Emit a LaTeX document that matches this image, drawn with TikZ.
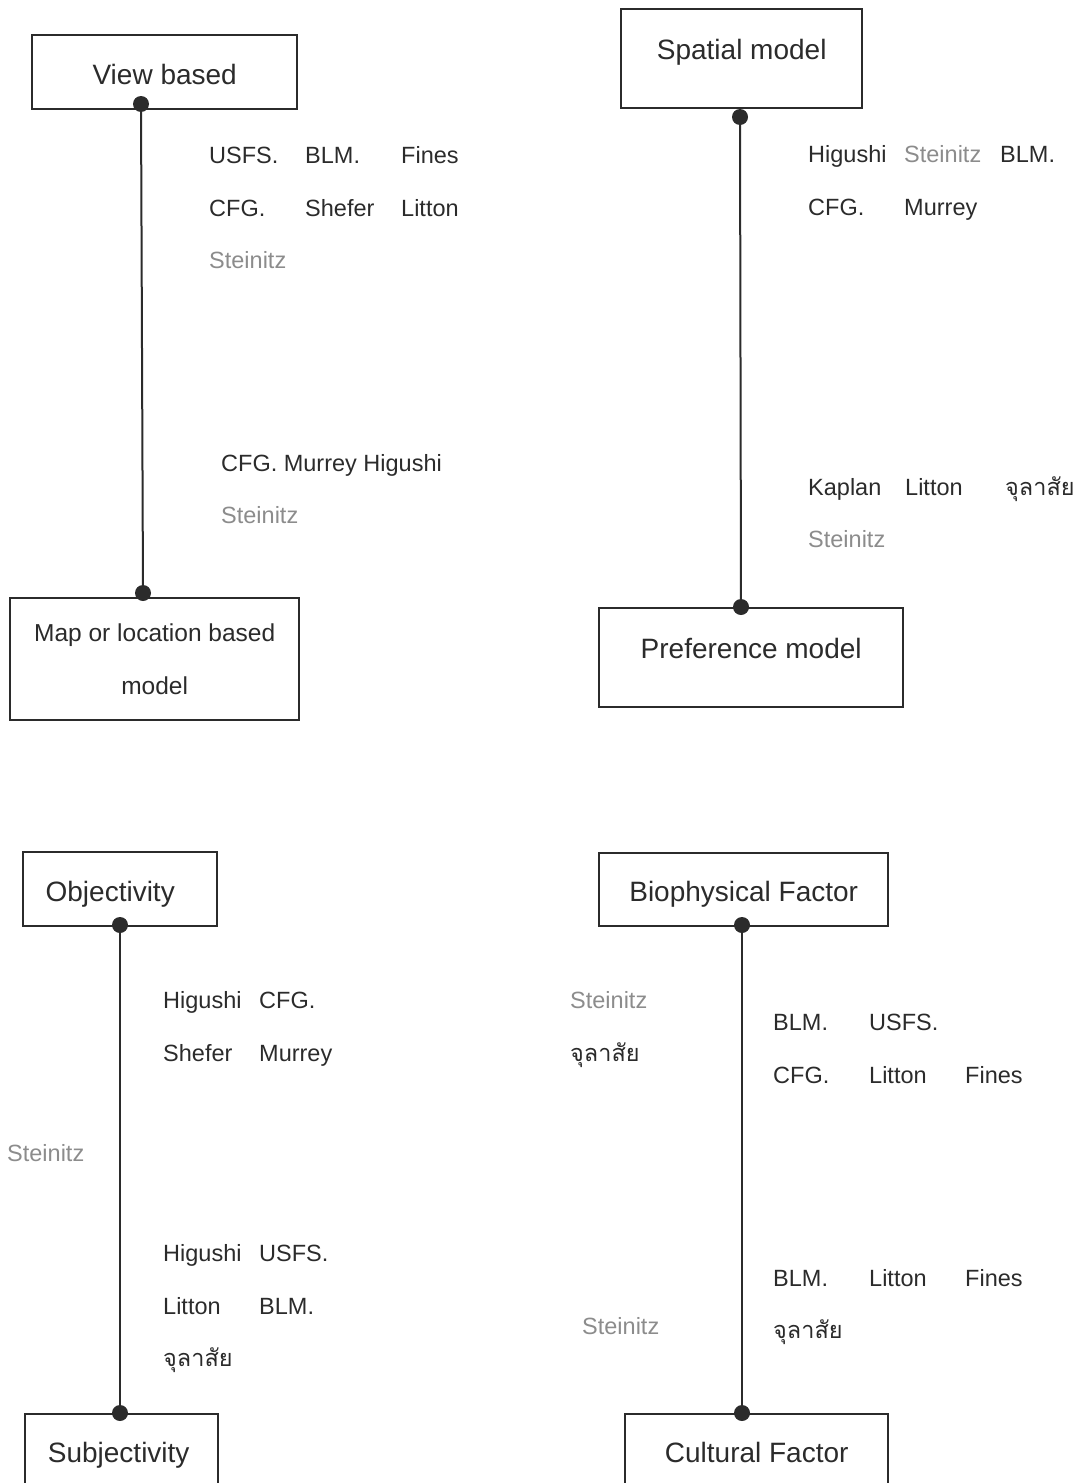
\documentclass[tikz,border=0pt]{standalone}
\usepackage{fontspec}
\setmainfont{Liberation Sans}
\newfontfamily\thaifont[Script=Thai]{Loma}
\usetikzlibrary{positioning}
\definecolor{ink}{HTML}{2B2B2B}
\definecolor{faint}{HTML}{8C8C8C}
\newcommand{\boxtext}[2]{\raisebox{#1}[0pt][0pt]{#2}}

\begin{document}
\begin{tikzpicture}[x=1pt, y=-1pt,
    box/.style={draw=ink, line width=2.4pt, anchor=north west, inner sep=0pt, text=ink, align=center, font=\fontsize{28}{53}\selectfont},
    dot/.style={circle, fill=ink, inner sep=0pt, minimum size=16pt},
    wire/.style={draw=ink, line width=2pt},
    lbl/.style={anchor=west, inner sep=0pt, text height=17pt, text depth=0pt, yshift=-0.5pt, text=ink, font=\fontsize{23.5}{28}\selectfont},
    dim/.style={lbl, text=faint},
    thai/.style={lbl, font=\thaifont\fontsize{23.5}{28}\selectfont}]

  \useasboundingbox (0,0) rectangle (1087,1483);
  \clip (0,0) rectangle (1087,1483);

  % View based <-> map based.
  \node[box, minimum width=265pt, minimum height=74pt] (view) at (31,34) {\boxtext{-12.5pt}{View based}};
  \node[box, minimum width=289pt, minimum height=122pt, font=\fontsize{24.5}{53}\selectfont] (map) at (9,597) {Map or location based\\model};
  \node[dot] (view-d) at (141,104) {};
  \node[dot] (map-d) at (143,593) {};
  \draw[wire] (view-d) -- (map-d);
  \foreach \x/\y/\t [count=\i] in {209/154/USFS., 305/154/BLM., 401/154/Fines,
      209/207/CFG., 305/207/Shefer, 401/207/Litton, 221/462/CFG. Murrey Higushi}
    \node[lbl] (vl\i) at (\x,\y) {\t};
  \node[dim] (vl8) at (209,259) {Steinitz};
  \node[dim] (vl9) at (221,514) {Steinitz};

  % Spatial <-> preference.
  \node[box, minimum width=241pt, minimum height=99pt] (spat) at (620,8) {\boxtext{-1pt}{Spatial model}};
  \node[box, minimum width=304pt, minimum height=99pt] (pref) at (598,607) {\boxtext{-1pt}{Preference model}};
  \node[dot] (spat-d) at (740,117) {};
  \node[dot] (pref-d) at (741,607) {};
  \draw[wire] (spat-d) -- (pref-d);
  \foreach \x/\y/\t [count=\i] in {808/153/Higushi, 1000/153/BLM., 808/206/CFG.,
      904/206/Murrey, 808/486/Kaplan, 905/486/Litton}
    \node[lbl] (sl\i) at (\x,\y) {\t};
  \node[dim] (sl7) at (904,153) {Steinitz};
  \node[dim] (sl8) at (808,538) {Steinitz};
  \node[thai] (sl9) at (1005,486) {จุลาสัย};

  % Objectivity <-> subjectivity.
  \node[box, minimum width=194pt, minimum height=74pt] (obj) at (22,851) {\boxtext{-12.5pt}{Objectivity\hspace{20pt}}};
  \node[box, minimum width=193pt, minimum height=80pt] (subj) at (24,1413) {\boxtext{-8.5pt}{Subjectivity\hspace{6pt}}};
  \node[dot] (obj-d) at (120,925) {};
  \node[dot] (subj-d) at (120,1413) {};
  \draw[wire] (obj-d) -- (subj-d);
  \foreach \x/\y/\t [count=\i] in {163/999/Higushi, 259/999/CFG., 163/1052/Shefer,
      259/1052/Murrey, 163/1252/Higushi, 259/1252/USFS., 163/1305/Litton, 259/1305/BLM.}
    \node[lbl] (ol\i) at (\x,\y) {\t};
  \node[dim] (ol9) at (7,1152) {Steinitz};
  \node[thai] (ol10) at (163,1357) {จุลาสัย};

  % Biophysical <-> cultural.
  \node[box, minimum width=289pt, minimum height=73pt] (bio) at (598,852) {\boxtext{-12pt}{Biophysical Factor}};
  \node[box, minimum width=263pt, minimum height=80pt] (cult) at (624,1413) {\boxtext{-8.5pt}{Cultural Factor}};
  \node[dot] (bio-d) at (742,925) {};
  \node[dot] (cult-d) at (742,1413) {};
  \draw[wire] (bio-d) -- (cult-d);
  \foreach \x/\y/\t [count=\i] in {773/1021/BLM., 869/1021/USFS., 773/1074/CFG.,
      869/1074/Litton, 965/1074/Fines, 773/1277/BLM., 869/1277/Litton, 965/1277/Fines}
    \node[lbl] (bl\i) at (\x,\y) {\t};
  \node[dim] (bl9) at (570,999) {Steinitz};
  \node[dim] (bl10) at (582,1325) {Steinitz};
  \node[thai] (bl11) at (570,1052) {จุลาสัย};
  \node[thai] (bl12) at (773,1329) {จุลาสัย};
\end{tikzpicture}
\end{document}
